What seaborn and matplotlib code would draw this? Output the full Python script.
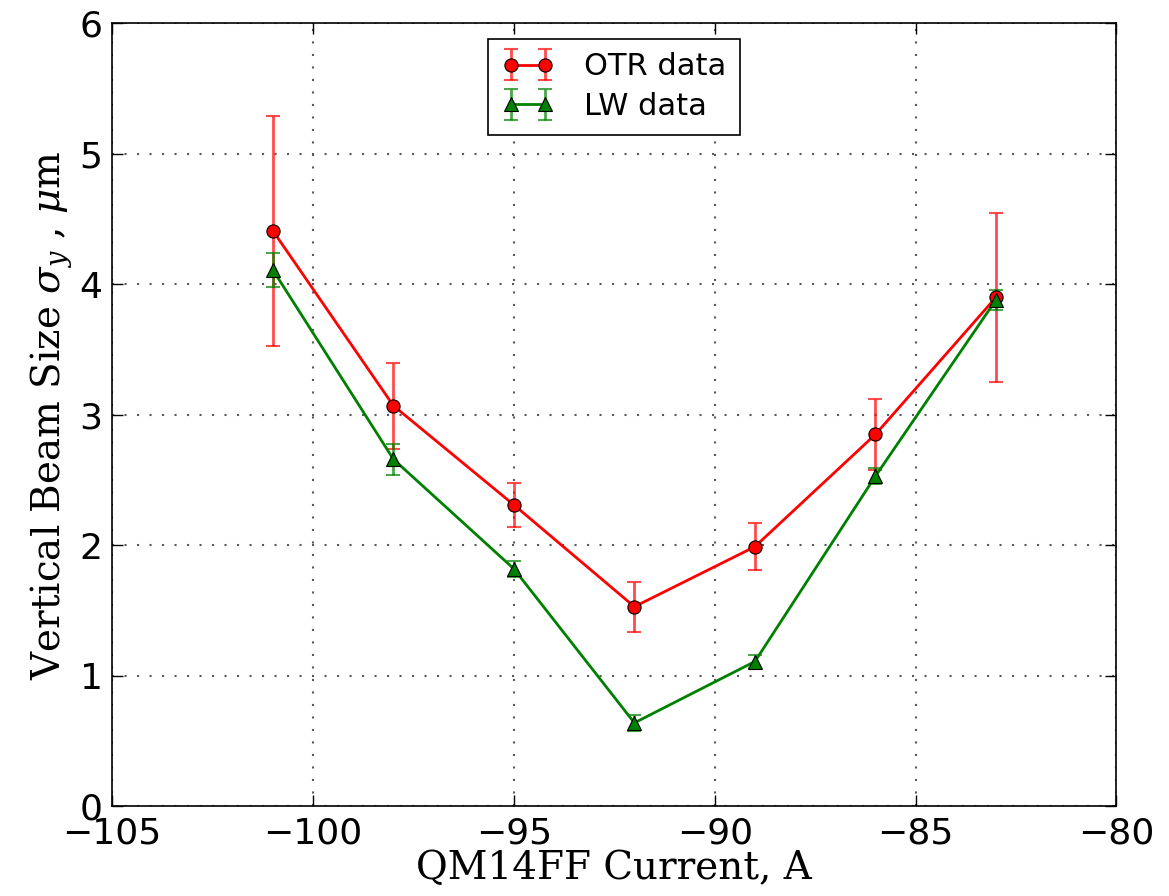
import matplotlib
matplotlib.use("Agg")
import matplotlib.pyplot as plt
import seaborn as sns
import pandas as pd
from matplotlib.legend_handler import HandlerTuple

current = [-101, -98, -95, -92, -89, -86, -83]
otr_size = [4.41, 3.07, 2.31, 1.53, 1.99, 2.85, 3.90]
otr_err = [0.88, 0.33, 0.17, 0.19, 0.18, 0.27, 0.65]
lw_size = [4.11, 2.66, 1.82, 0.64, 1.11, 2.53, 3.88]
lw_err = [0.13, 0.12, 0.06, 0.06, 0.05, 0.06, 0.08]

sns.set_theme(style="white")
plt.rcParams["font.family"] = ["DejaVu Sans"]
plt.rcParams["mathtext.fontset"] = "dejavuserif"
plt.rcParams["text.color"] = "black"
plt.rcParams["axes.labelcolor"] = "black"

fig, ax = plt.subplots(figsize=(11.69, 8.96), dpi=100)
fig.subplots_adjust(left=0.096, right=0.955, top=0.974, bottom=0.100)

df_otr = pd.DataFrame({"x": current, "y": otr_size})
df_lw = pd.DataFrame({"x": current, "y": lw_size})

handles = []
for df, err, color, marker, msize, label in [
    (df_otr, otr_err, "red", "o", 9.5, "OTR data"),
    (df_lw, lw_err, "green", "^", 9.5, "LW data"),
]:
    eb = ax.errorbar(df["x"], df["y"], yerr=err, fmt="none", ecolor=color,
                     elinewidth=2, capsize=5, capthick=1.5, alpha=0.7, zorder=2)
    sns.lineplot(data=df, x="x", y="y", ax=ax, color=color, linewidth=2,
                 marker=marker, markersize=msize, markeredgecolor="black",
                 markeredgewidth=0.8, markerfacecolor=color, zorder=3,
                 legend=False)
    line = ax.lines[-1]
    handles.append(((eb, line), label))

ax.set_xlim(-105, -80)
ax.set_ylim(0, 6)
ax.set_xticks([-105, -100, -95, -90, -85, -80])
ax.set_yticks([0, 1, 2, 3, 4, 5, 6])
ax.grid(True, color="0.35", linestyle=(0, (1, 5)), linewidth=1.5)
for s in ax.spines.values():
    s.set_color("black")
    s.set_linewidth(1.2)
ax.tick_params(direction="in", length=8, width=1, labelsize=26, colors="black",
               top=True, right=True, bottom=True, left=True, pad=7)

ax.set_xlabel("QM14FF Current, A", family="DejaVu Serif", fontsize=28,
              labelpad=0, color="black")
ax.set_ylabel(r"Vertical Beam Size $\sigma_y$ , $\mu$m", family="DejaVu Serif",
              fontsize=28, labelpad=4, color="black")

leg = ax.legend([h for h, _ in handles], [l for _, l in handles],
                handler_map={tuple: HandlerTuple(ndivide=1, pad=0)},
                loc="upper center", fontsize=22,
                frameon=True, fancybox=False, edgecolor="black", framealpha=1,
                numpoints=2, handlelength=1.7, handletextpad=1.0,
                borderpad=0.45, labelspacing=0.35)
leg.get_frame().set_linewidth(1.2)
for t in leg.get_texts():
    t.set_color("black")

fig.savefig("out.png", dpi=100, facecolor="white")
